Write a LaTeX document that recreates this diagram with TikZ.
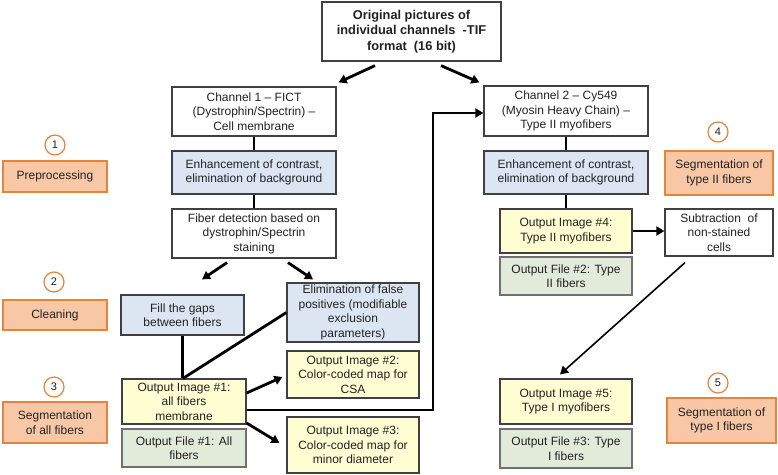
\documentclass[tikz,border=0pt]{standalone}
\usepackage{fontspec}
\setmainfont{Liberation Sans}
\usetikzlibrary{arrows.meta,calc}
\definecolor{orfill}{HTML}{F8C8A6}
\definecolor{ordraw}{HTML}{E5853D}
\definecolor{bluefill}{HTML}{DCE6F2}
\definecolor{yelfill}{HTML}{FFFDD2}
\definecolor{grnfill}{HTML}{E2EBDA}
\definecolor{boxdraw}{HTML}{404040}
\definecolor{grndraw}{HTML}{707070}
\definecolor{txt}{HTML}{222222}
\begin{document}
\begin{tikzpicture}[x=1pt,y=-1pt,
 box/.style={draw=boxdraw, line width=1.2pt, fill=white, align=center, inner sep=0pt, text=txt, font=\fontsize{12}{14.5}\selectfont},
 bluebox/.style={box, fill=bluefill},
 yelbox/.style={box, fill=yelfill},
 grnbox/.style={box, fill=grnfill, draw=grndraw},
 orbox/.style={box, fill=orfill, draw=ordraw},
 num/.style={circle, draw=ordraw, line width=1.2pt, fill=white, minimum size=20pt, inner sep=0pt, text=txt, font=\fontsize{11}{13}\selectfont},
 conn/.style={line width=2.8pt},
 arr/.style={line width=2.8pt, -{Triangle[length=8pt,width=9pt]}},
 sz/.style n args={2}{minimum width=#1pt, minimum height=#2pt},
]
\fill[white] (0,0) rectangle (778,474);
\useasboundingbox (0,0) rectangle (778,474);

% top
\node[box, sz={179}{59}, font=\bfseries\fontsize{12.8}{15.5}\selectfont] (top) at (411.5,31.5) {Original pictures of\\individual channels\ \ -TIF\\format\ \ (16 bit)};

% channel 1 column
\node[box, sz={164}{49}] (ch1) at (254,111.5) {Channel 1 -- FICT\\(Dystrophin/Spectrin) --\\Cell membrane};
\node[bluebox, sz={164}{43}] (enh1) at (254,172.5) {Enhancement of contrast,\\elimination of background};
\node[box, sz={164}{49}] (fib) at (254,233.5) {Fiber detection based on\\dystrophin/Spectrin\\staining};
\node[bluebox, sz={123}{40}] (fill) at (182.5,315) {Fill the gaps\\between fibers};
\node[bluebox, sz={132}{59}] (elim) at (353,312.5) {Elimination of false\\positives (modifiable\\exclusion\\parameters)};
\node[yelbox, sz={132}{47}] (out2) at (353,374.5) {Output Image \#2:\\Color-coded map for\\CSA};
\node[yelbox, sz={124}{45}] (out1) at (184,401.5) {Output Image \#1:\\all fibers\\membrane};
\node[grnbox, sz={124}{38}] (file1) at (184,448) {Output File \#1: All\\fibers};
\node[yelbox, sz={132}{56}] (out3) at (353,445) {Output Image \#3:\\Color-coded map for\\minor diameter};

% channel 2 column
\node[box, sz={164}{50}] (ch2) at (566,111) {Channel 2 -- Cy549\\(Myosin Heavy Chain) --\\Type II myofibers};
\node[bluebox, sz={164}{43}] (enh2) at (566,172.5) {Enhancement of contrast,\\elimination of background};
\node[yelbox, sz={132}{44}] (out4) at (566,231) {Output Image \#4:\\Type II myofibers};
\node[grnbox, sz={132}{38}] (file2) at (566,276) {Output File \#2: Type\\II fibers};
\node[box, sz={108}{47}] (sub) at (719,232.5) {Subtraction\ \ of\\non-stained\\cells};
\node[yelbox, sz={132}{45}] (out5) at (566,401.5) {Output Image \#5:\\Type I myofibers};
\node[grnbox, sz={132}{39}] (file3) at (566,448.5) {Output File \#3: Type\\I fibers};

% stage labels
\node[num] (c1) at (55,145) {1};
\node[orbox, sz={104}{31}] (prep) at (55,176.5) {Preprocessing};
\node[num] (c2) at (54,282) {2};
\node[orbox, sz={104}{30}] (clean) at (55,315) {Cleaning};
\node[num] (c3) at (54,387) {3};
\node[orbox, sz={104}{41}] (segall) at (55,422.5) {Segmentation\\of all fibers};
\node[num] (c4) at (718,132) {4};
\node[orbox, sz={108}{44}] (seg2) at (719,173) {Segmentation of\\type II fibers};
\node[num] (c5) at (718,383) {5};
\node[orbox, sz={109}{45}] (seg1) at (721.5,420.5) {Segmentation of\\type I fibers};

% connectors
\coordinate (elbow) at (433,113);
\draw[arr] ($(top.south)+(-36.5,4)$) -- ($(ch1.north east)+(2,-4)$);
\draw[arr] ($(top.south)+(29.5,4)$) -- ($(ch2.north west)+(-4,-3)$);
\draw[conn] (ch1) -- (enh1);
\draw[conn] (enh1) -- (fib);
\draw[conn] (ch2) -- (enh2);
\draw[conn] (enh2) -- (out4);
\draw[arr] ($(fib.south)+(-27,4)$) -- ($(fill.north)+(19.5,-15)$);
\draw[arr] ($(fib.south)+(34,4)$) -- ($(elim.north)+(-40,-3)$);
\draw[conn] (fill.south) -- (fill.south |- out1.north);
\draw[conn] ($(out1.north)+(-1,0)$) -- (elim.west);
\draw[arr] ($(out1.east)+(0,-8.5)$) -- ($(out2.west)+(-4,2.5)$);
\draw[arr] ($(out1.east)+(0,21.5)$) -- ($(out3.west)+(-7,-2)$);
\draw[arr] ($(out1.east)+(0,8.5)$) -| (elbow) -- ($(ch2.west)+(0,2)$);
\draw[arr] (out4.east) -- (out4.east -| sub.west);
\draw[arr, line width=1.6pt] ($(sub.south)+(-34,6)$) -- ($(out5.north)+(-6,-4)$);
\end{tikzpicture}
\end{document}
